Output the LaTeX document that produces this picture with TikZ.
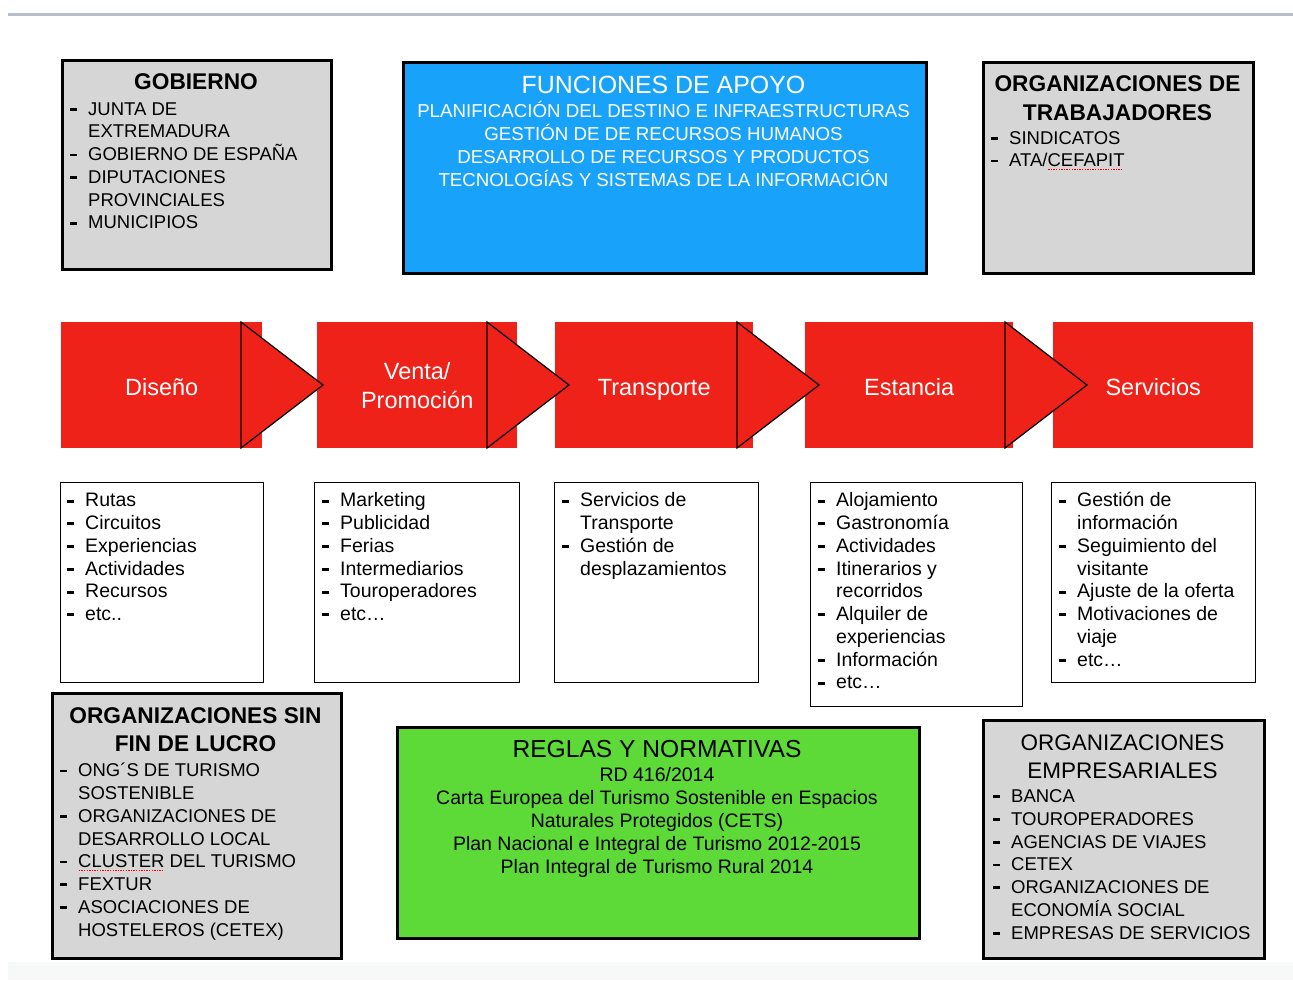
\documentclass[tikz,border=0pt]{standalone}
\usepackage{fontspec}
\setmainfont{Liberation Sans}
\usepackage{tikz}

\definecolor{boxgray}{RGB}{214,214,214}
\definecolor{apoyoblue}{RGB}{25,162,250}
\definecolor{normagreen}{RGB}{93,217,56}
\definecolor{etapared}{RGB}{238,34,24}
\definecolor{rulegray}{RGB}{184,190,200}
\definecolor{bandgray}{RGB}{247,249,249}

% guion de lista y sangria
\newcommand{\gi}{\strut\makebox[18pt][l]{\rule[4.4pt]{7pt}{2.8pt}}}
\newcommand{\gs}{\strut\hspace*{18pt}}
% subrayado del corrector
\newcommand{\spellmark}[1]{\setbox0\hbox{#1}\rlap{\textcolor{red}{\leaders\hbox to 2.6pt{\hss\rule[-3pt]{1.3pt}{1.1pt}\hss}\hskip\wd0}}\box0\relax}

\begin{document}
\begin{tikzpicture}[x=1pt,y=-1pt,
  caja/.style={draw,line width=2.5pt,anchor=north west,inner sep=0pt},
  grisbox/.style={caja,fill=boxgray},
  lista/.style={draw,line width=1.4pt,fill=white,anchor=north west,inner sep=0pt},
  etapa/.style={fill=etapared,anchor=north west,minimum height=126pt,inner sep=0pt,
    text=white,align=center,font={\fontsize{23.5}{29}\selectfont}},
  unalinea/.style={etapa,text height=20pt,text depth=0pt},
  titulo/.style={anchor=north,align=center,inner sep=0pt,
    font={\fontsize{22.7}{28.5}\selectfont\bfseries\lineskiplimit=-20pt}},
  items/.style={anchor=north west,align=left,inner sep=0pt,
    font={\fontsize{18.5}{22.75}\selectfont\lineskiplimit=-20pt}},
  witems/.style={items,font={\fontsize{19.5}{22.75}\selectfont\lineskiplimit=-20pt}},
  cuerpo/.style={anchor=north,align=center,inner sep=0pt,
    font={\fontsize{18.7}{23}\selectfont\lineskiplimit=-20pt}}]

\useasboundingbox (0,0) rectangle (1293,980);
\fill[white] (0,0) rectangle (1293,980);
\draw[rulegray,line width=3pt] (8,14) -- (1293,14);
\fill[bandgray] (8,962) rectangle (1293,980);

% agentes de arriba
\node[grisbox,minimum width=269pt,minimum height=209pt] (gob) at (61,59) {};
\node[titulo] (gobt) at (196,69.5) {\strut GOBIERNO};
\node[items] (gobl) at (70,99.1) {\gi JUNTA DE\\\gs EXTREMADURA\\\gi GOBIERNO DE ESPAÑA\\\gi DIPUTACIONES\\\gs PROVINCIALES\\\gi MUNICIPIOS};

\node[caja,fill=apoyoblue,minimum width=523pt,minimum height=211pt] (apoyo) at (402,61) {};
\node[anchor=base,inner sep=0pt,text=white,font={\fontsize{24.9}{29}\selectfont}] (apoyot) at (663.5,93) {FUNCIONES DE APOYO};
\node[cuerpo,text=white] (apoyol) at (663.5,100.6) {\strut PLANIFICACIÓN DEL DESTINO E INFRAESTRUCTURAS\\\strut GESTIÓN DE DE RECURSOS HUMANOS\\\strut DESARROLLO DE RECURSOS Y PRODUCTOS\\\strut TECNOLOGÍAS Y SISTEMAS DE LA INFORMACIÓN};

\node[grisbox,minimum width=270pt,minimum height=211pt] (trab) at (982,61) {};
\node[titulo] (trabt) at (1117.5,71.4) {\strut ORGANIZACIONES DE\\\strut TRABAJADORES};
\node[items] (trabl) at (991,128) {\gi SINDICATOS\\\gi ATA/\spellmark{CEFAPIT}};

% cadena de valor
\node[unalinea,minimum width=201pt] (dis) at (61,322) {Diseño};
\node[etapa,minimum width=200pt] (ven) at (317,322) {Venta/\\Promoción};
\node[unalinea,minimum width=198pt] (tra) at (555,322) {Transporte};
\node[unalinea,minimum width=208pt] (est) at (805,322) {Estancia};
\node[unalinea,minimum width=200pt] (ser) at (1053,322) {Servicios};
\foreach \bx/\tx in {241/323,487/569,737/819,1005/1087}
  \filldraw[fill=etapared,draw=black,line width=1.2pt] (\bx,322) -- (\tx,385) -- (\bx,448) -- cycle;

% contenidos de cada etapa
\node[lista,minimum width=203pt,minimum height=200pt] (disc) at (60,482) {};
\node[witems] (disl) at (67,490.8) {\gi Rutas\\\gi Circuitos\\\gi Experiencias\\\gi Actividades\\\gi Recursos\\\gi etc..};
\node[lista,minimum width=205pt,minimum height=200pt] (venc) at (314,482) {};
\node[witems] (venl) at (322,490.8) {\gi Marketing\\\gi Publicidad\\\gi Ferias\\\gi Intermediarios\\\gi Touroperadores\\\gi etc…};
\node[lista,minimum width=204pt,minimum height=200pt] (trac) at (554,482) {};
\node[witems] (tral) at (562,490.8) {\gi Servicios de\\\gs Transporte\\\gi Gestión de\\\gs desplazamientos};
\node[lista,minimum width=212pt,minimum height=224pt] (estc) at (810,482) {};
\node[witems] (estl) at (818,490.8) {\gi Alojamiento\\\gi Gastronomía\\\gi Actividades\\\gi Itinerarios y\\\gs recorridos\\\gi Alquiler de\\\gs experiencias\\\gi Información\\\gi etc…};
\node[lista,minimum width=204pt,minimum height=200pt] (serc) at (1051,482) {};
\node[witems] (serl) at (1059,490.8) {\gi Gestión de\\\gs información\\\gi Seguimiento del\\\gs visitante\\\gi Ajuste de la oferta\\\gi Motivaciones de\\\gs viaje\\\gi etc…};

% agentes de abajo
\node[grisbox,minimum width=289pt,minimum height=265pt] (sfl) at (51,692) {};
\node[titulo] (sflt) at (195.5,703.3) {\strut ORGANIZACIONES SIN\\\strut FIN DE LUCRO};
\node[items] (sfll) at (60,760.7) {\gi ONG´S DE TURISMO\\\gs SOSTENIBLE\\\gi ORGANIZACIONES DE\\\gs DESARROLLO LOCAL\\\gi \spellmark{CLUSTER} DEL TURISMO\\\gi FEXTUR\\\gi ASOCIACIONES DE\\\gs HOSTELEROS (CETEX)};

\node[caja,fill=normagreen,minimum width=522pt,minimum height=211pt] (reg) at (396,726) {};
\node[anchor=base,inner sep=0pt,font={\fontsize{24.6}{29}\selectfont}] (regt) at (657,757.8) {REGLAS Y NORMATIVAS};
\node[cuerpo,font={\fontsize{19.5}{23}\selectfont\lineskiplimit=-20pt}] (regl) at (657,764.8) {\strut RD 416/2014\\\strut Carta Europea del Turismo Sostenible en Espacios\\\strut Naturales Protegidos (CETS)\\\strut Plan Nacional e Integral de Turismo 2012-2015\\\strut Plan Integral de Turismo Rural 2014};

\node[grisbox,minimum width=281pt,minimum height=238pt] (emp) at (982,719) {};
\node[titulo,font={\fontsize{22.5}{28.3}\selectfont\lineskiplimit=-20pt}] (empt) at (1122.5,730) {\strut ORGANIZACIONES\\\strut EMPRESARIALES};
\node[items] (empl) at (993,786.4) {\gi BANCA\\\gi TOUROPERADORES\\\gi AGENCIAS DE VIAJES\\\gi CETEX\\\gi ORGANIZACIONES DE\\\gs ECONOMÍA SOCIAL\\\gi EMPRESAS DE SERVICIOS};
\end{tikzpicture}
\end{document}
